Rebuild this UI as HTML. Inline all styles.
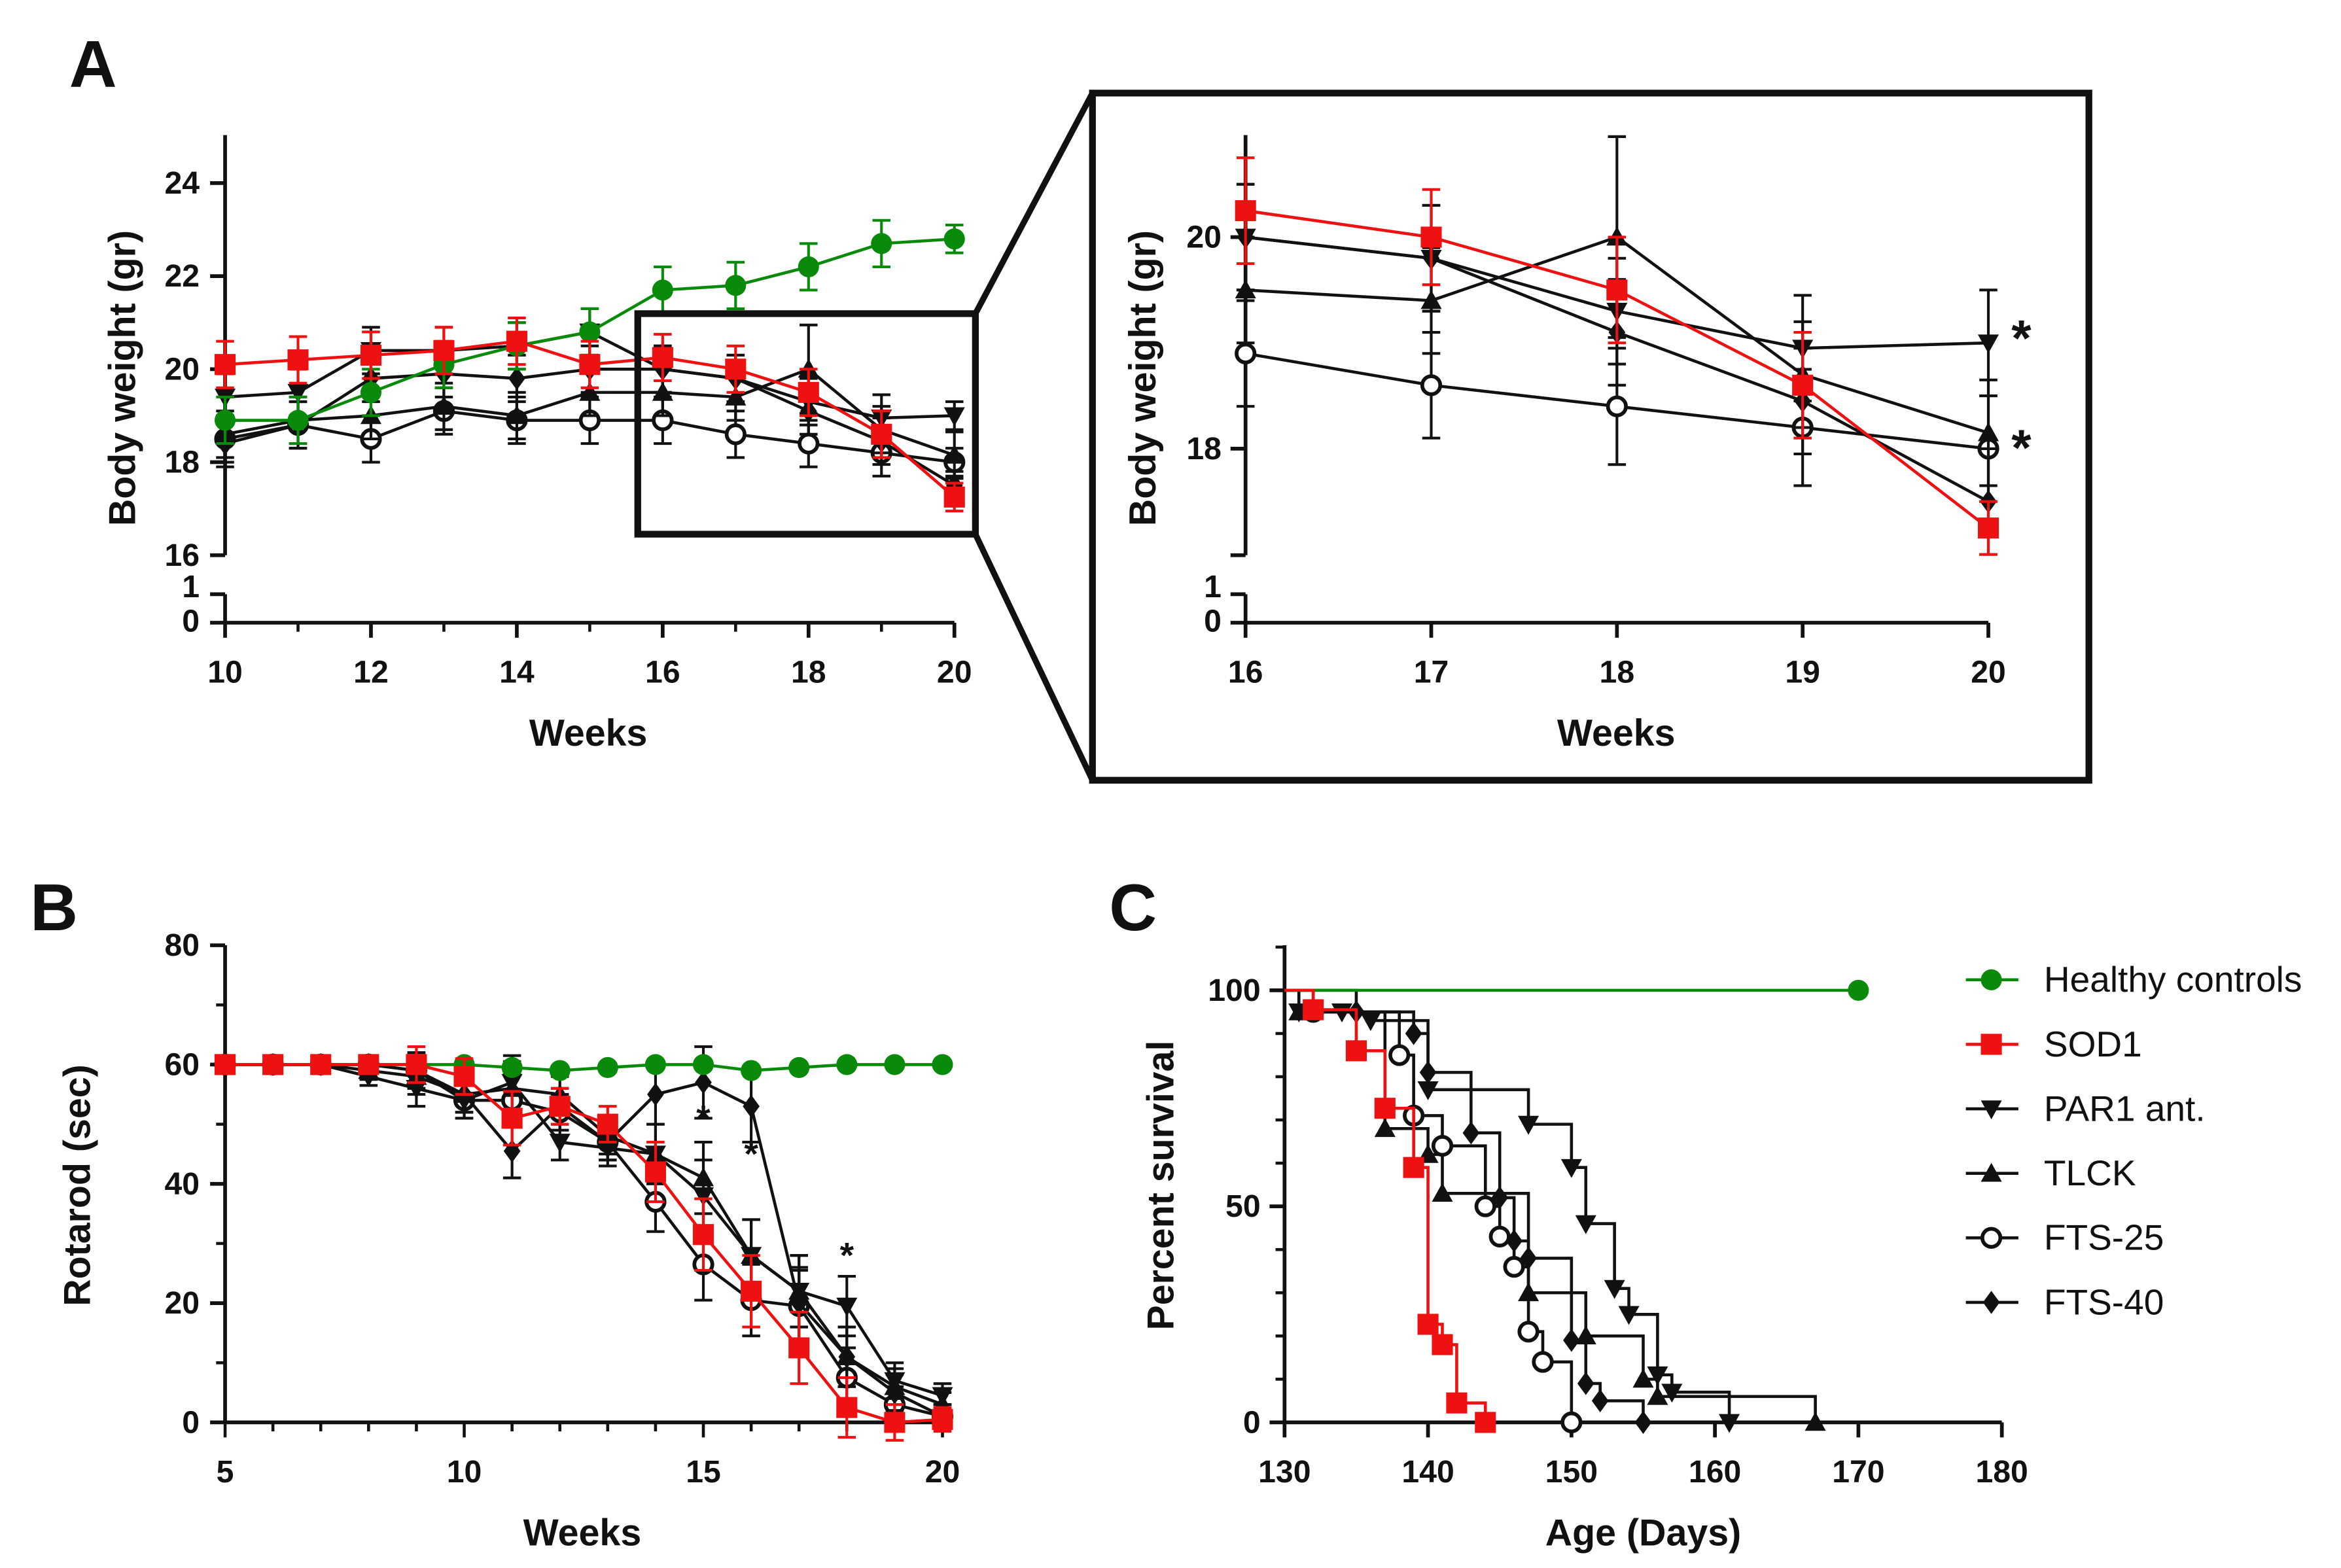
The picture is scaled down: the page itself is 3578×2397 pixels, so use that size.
<!DOCTYPE html>
<html><head><meta charset="utf-8">
<style>
html,body{margin:0;padding:0;background:#fff;}
svg{display:block;font-family:"Liberation Sans",Arial,sans-serif;}
</style></head>
<body>
<svg id="fig" width="3578" height="2397" viewBox="0 0 1560 1045" xmlns="http://www.w3.org/2000/svg">
<rect width="1560" height="1045" fill="#fff"/>
<g id="root"></g>
</svg>
<script>
// ---- Panel A data (weeks 10..20) ----
const weeksA = [10,11,12,13,14,15,16,17,18,19,20];
const aHealthy = [18.9,18.9,19.5,20.1,20.5,20.8,21.7,21.8,22.2,22.7,22.8];
const aSOD1 = [20.1,20.2,20.3,20.4,20.6,20.1,20.25,20.0,19.5,18.6,17.25];
const aPAR1 = [19.4,19.5,20.4,20.4,20.5,20.8,20.0,19.8,19.3,18.95,19.0];
const aTLCK = [18.6,18.9,19.0,19.2,19.0,19.5,19.5,19.4,20.0,18.7,18.15];
const aFTS25 = [18.5,18.8,18.5,19.1,18.9,18.9,18.9,18.6,18.4,18.2,18.0];
const aFTS40 = [18.4,18.8,19.8,19.9,19.8,20.0,20.0,19.8,19.1,18.45,17.5];
const aErr = [0.5,0.5,0.5,0.5,0.5,0.5,0.5,0.5,0.5,0.5,0.3];
const aTLCKErr = [0.5,0.5,0.5,0.5,0.5,0.5,0.5,0.5,0.95,0.5,0.5];
const ticksAy = [16,18,20,22,24];
const ticksAx = [10,12,14,16,18,20];
const ticksInsetX = [16,17,18,19,20];
const ticksInsetY = [18,20];
// ---- Panel B data (weeks 5..20) ----
const weeksB = [5,6,7,8,9,10,11,12,13,14,15,16,17,18,19,20];
const bHealthy = [60,60,60,60,60,60,59.5,59,59.5,60,60,59,59.5,60,60,60];
const bSOD1 = [60,60,60,60,60,58,51,53,50,42,31.5,22,12.5,2.5,0,0.5];
const bPAR1 = [60,60,60,58,56,54,57,47,46,45,38,28,22,19.5,7,4.5];
const bTLCK = [60,60,60,59,58,55,56,55,48,45,41,28,22,11,6,3];
const bFTS25 = [60,60,60,60,59,54,54,52,47,37,26.5,20.5,19.5,7.5,3,1];
const bFTS40 = [60,60,60,60,59,55,45.5,53,47,55,57,53,20,11,5,1];
const bErr = [0,0,0,1.5,3,3,4.5,3,3,5,6,6,6,5,3,2];
const ticksBx = [5,10,15,20];
const ticksBy = [0,20,40,60,80];
const starsBx = [15,16,18];
const starsBy = [52,46,29];
// ---- Panel C data (survival) ----
const cHealthyT = [130,170], cHealthyP = [100,100];
const cSOD1T = [132,135,137,139,140,141,142,144];
const cSOD1P = [95.5,86,72.7,59,22.7,18,4.5,0];
const cPAR1T = [131,134,136,140,147,150,151,153,154,156,157,161];
const cPAR1P = [95,95,93,77,69,59,46,31,25,11,7,0];
const cTLCKT = [131,137,140,141,147,151,155,156,167];
const cTLCKP = [95,68,62,53,30,20,10,6,0];
const cFTS25T = [132,138,139,141,144,145,146,147,148,150];
const cFTS25P = [95,85,71,64,50,43,36,21,14,0];
const cFTS40T = [135,139,140,143,145,146,147,150,151,152,155];
const cFTS40P = [95,90,81,67,52,42,38,19,9,5,0];
const ticksCx = [130,140,150,160,170,180];
const ticksCy = [0,50,100];
const legendLabels = ["Healthy controls","SOD1","PAR1 ant.","TLCK","FTS-25","FTS-40"];

const NS="http://www.w3.org/2000/svg";
const root=document.getElementById('root');
const TK=21, TT=25;
function el(tag,attrs,parent,name){const e=document.createElementNS(NS,tag);for(const k in attrs)e.setAttribute(k,attrs[k]);


(parent||root).appendChild(e);return e;}
function txt(x,y,s,size,name,anchor,rot,parent){const t=el('text',{x:x,y:y,'font-size':size,'font-weight':'bold','text-anchor':anchor||'middle',fill:'#111'},parent,name);
if(rot)t.setAttribute('transform',`rotate(${rot} ${x} ${y})`);t.textContent=s;return t;}
function line(x1,y1,x2,y2,c,w,name,p){return el('line',{x1:x1,y1:y1,x2:x2,y2:y2,stroke:c||'#111','stroke-width':w||2},p,name);}
function marker(type,x,y,c,s,name,p){s=s||7;
 if(type==='circle')return el('circle',{cx:x,cy:y,r:s,fill:c},p,name);
 if(type==='ocircle')return el('circle',{cx:x,cy:y,r:s-1,fill:'#fff',stroke:c,'stroke-width':2.5},p,name);
 if(type==='square')return el('rect',{x:x-s,y:y-s,width:2*s,height:2*s,fill:c},p,name);
 if(type==='down')return el('polygon',{points:`${x-s},${y-s*0.8} ${x+s},${y-s*0.8} ${x},${y+s}`,fill:c},p,name);
 if(type==='up')return el('polygon',{points:`${x-s},${y+s*0.8} ${x+s},${y+s*0.8} ${x},${y-s}`,fill:c},p,name);
 if(type==='diamond')return el('polygon',{points:`${x},${y-s*1.1} ${x+s*0.8},${y} ${x},${y+s*1.1} ${x-s*0.8},${y}`,fill:c},p,name);}
const SER=[['healthy','circle','#0a8a0a'],['sod1','square','#ee1111'],['par1','down','#111'],['tlck','up','#111'],['fts25','ocircle','#111'],['fts40','diamond','#111']];

function series(g,xs,ys,errs,xf,yf,st,idx){
 const pts=xs.map((x,i)=>[xf(x),yf(ys[i])]);
 el('polyline',{points:pts.map(p=>p.join(',')).join(' '),fill:'none',stroke:st[2],'stroke-width':2},g,st[0]+'-line');
 pts.forEach((p,i)=>{ if(errs){const e=errs[i];const y1=yf(ys[i]+e),y2=yf(ys[i]-e);
   if(Math.abs(y2-y1)>2){line(p[0],y1,p[0],y2,st[2],1.8,st[0]+'-errbar',g);line(p[0]-6,y1,p[0]+6,y1,st[2],1.8,st[0]+'-errcap',g);line(p[0]-6,y2,p[0]+6,y2,st[2],1.8,st[0]+'-errcap',g);}}
  marker(st[1],p[0],p[1],st[2],7,st[0]+'-point',g);});
}

// ===== Panel A main =====
(function(){
 const g=el('g',{},root,'panel-a-main');
 const xf=w=>150+(w-10)*48.6, yf=v=>246-(v-20)*31;
 txt(62,58,'A',44,'panel-a-label');
 line(150,90,150,370,'#111',2.5,'y-axis',g);line(150,396,150,415,'#111',2.5,'y-axis-break',g);
 line(150,415,636,415,'#111',2.5,'x-axis',g);
 ticksAy.forEach(v=>{line(140,yf(v),150,yf(v),'#111',2.5,'y-tick',g);txt(133,yf(v)+7,v,TK,'y-tick-label','end',0,g);});
 [[1,396],[0,415]].forEach(a=>{line(140,a[1],150,a[1],'#111',2.5,'y-tick',g);txt(133,a[1]+(a[0]?2:6),a[0],TK,'y-tick-label','end',0,g);});
 ticksAx.forEach(v=>{line(xf(v),415,xf(v),425,'#111',2.5,'x-tick',g);txt(xf(v),455,v,TK,'x-tick-label','middle',0,g);});
 for(let w=11;w<20;w+=2)line(xf(w),415,xf(w),421,'#111',2,'x-minor-tick',g);
 txt(392,497,'Weeks',TT,'x-axis-title','middle',0,g);
 txt(90,252,'Body weight (gr)',TT,'y-axis-title','middle',-90,g);
 const data=[aHealthy,aSOD1,aPAR1,aTLCK,aFTS25,aFTS40];
 [4,3,5,2,0,1].forEach(i=>series(g,weeksA,data[i],i===3?aTLCKErr:aErr,xf,yf,SER[i],i));
 el('rect',{x:425,y:209,width:225,height:147,fill:'none',stroke:'#111','stroke-width':4.5},g,'zoom-box');
 line(650,209,728,62,'#111',4,'zoom-connector-top',g);line(650,356,728,520,'#111',4,'zoom-connector-bottom',g);
})();
// ===== Panel A inset =====
(function(){
 const g=el('g',{},root,'panel-a-inset');
 el('rect',{x:728,y:62,width:664,height:458,fill:'#fff',stroke:'#111','stroke-width':4.5},g,'inset-frame');
 const xf=w=>830+(w-16)*123.75, yf=v=>158-(v-20)*70.5;
 line(830,90,830,370,'#111',2.5,'inset-y-axis',g);line(830,396,830,415,'#111',2.5,'inset-y-axis-break',g);
 line(830,415,1325,415,'#111',2.5,'inset-x-axis',g);
 ticksInsetY.forEach(v=>{line(820,yf(v),830,yf(v),'#111',2.5,'y-tick',g);txt(814,yf(v)+7,v,TK,'y-tick-label','end',0,g);});
 line(820,370,830,370,'#111',2.5,'y-tick',g);
 [[1,396],[0,415]].forEach(a=>{line(820,a[1],830,a[1],'#111',2.5,'y-tick',g);txt(814,a[1]+(a[0]?2:6),a[0],TK,'y-tick-label','end',0,g);});
 ticksInsetX.forEach(v=>{line(xf(v),415,xf(v),425,'#111',2.5,'x-tick',g);txt(xf(v),455,v,TK,'x-tick-label','middle',0,g);});
 txt(1077,497,'Weeks',TT,'x-axis-title','middle',0,g);
 txt(770,252,'Body weight (gr)',TT,'y-axis-title','middle',-90,g);
 const data=[aSOD1,aPAR1,aTLCK,aFTS25,aFTS40];
 const errs=[[0.5,0.45,0.5,0.5,0.25],[0.5,0.5,0.5,0.5,0.5],[0.5,0.5,0.95,0.5,0.5],[0.5,0.5,0.55,0.55,0.5],[0.5,0.5,0.5,0.5,0.5]];
 [3,2,4,1,0].forEach(k=>{const full=data[k];series(g,weeksA.slice(6),full.slice(6),errs[k],xf,yf,SER[k+1],k+1);});
 txt(1347,237,'*',34,'significance-star','middle',0,g);txt(1347,310,'*',34,'significance-star','middle',0,g);
})();
// ===== Panel B =====
(function(){
 const g=el('g',{},root,'panel-b');
 const xf=w=>150+(w-5)*31.87, yf=v=>948-v*3.975;
 txt(36,620,'B',44,'panel-b-label');
 line(150,630,150,948,'#111',2.5,'y-axis',g);line(150,948,628,948,'#111',2.5,'x-axis',g);
 ticksBy.forEach(v=>{line(140,yf(v),150,yf(v),'#111',2.5,'y-tick',g);txt(133,yf(v)+7,v,TK,'y-tick-label','end',0,g);});
 for(let v=10;v<80;v+=20)line(144,yf(v),150,yf(v),'#111',2,'y-minor-tick',g);
 weeksB.forEach(v=>{const big=v%5===0;line(xf(v),948,xf(v),big?958:954,'#111',2,'x-tick',g);});
 ticksBx.forEach(v=>txt(xf(v),988,v,TK,'x-tick-label','middle',0,g));
 txt(388,1030,'Weeks',TT,'x-axis-title','middle',0,g);
 txt(60,790,'Rotarod (sec)',TT,'y-axis-title','middle',-90,g);
 const data=[bHealthy,bSOD1,bPAR1,bTLCK,bFTS25,bFTS40];
 [4,3,5,2,0,1].forEach(i=>series(g,weeksB,data[i],i===0?null:bErr,xf,yf,SER[i],i));
 starsBx.forEach((w,i)=>txt(xf(w),yf(starsBy[i])+12,'*',24,'significance-star','middle',0,g));
})();
// ===== Panel C =====
(function(){
 const g=el('g',{},root,'panel-c');
 const xf=d=>856+(d-130)*9.56, yf=v=>948-v*2.88;
 txt(755,620,'C',44,'panel-c-label');
 line(856,630,856,948,'#111',2.5,'y-axis',g);line(856,948,1334,948,'#111',2.5,'x-axis',g);
 ticksCy.forEach(v=>{line(846,yf(v),856,yf(v),'#111',2.5,'y-tick',g);txt(840,yf(v)+7,v,TK,'y-tick-label','end',0,g);});
 for(let v=10;v<=110;v+=10)if(v%50)line(850,yf(v),856,yf(v),'#111',2,'y-minor-tick',g);
 ticksCx.forEach(v=>{line(xf(v),948,xf(v),958,'#111',2.5,'x-tick',g);txt(xf(v),988,v,TK,'x-tick-label','middle',0,g);});
 txt(1095,1030,'Age (Days)',TT,'x-axis-title','middle',0,g);
 txt(782,790,'Percent survival',TT,'y-axis-title','middle',-90,g);
 function km(T,P,st){let pts=[[xf(130),yf(100)]];let prev=100;
  T.forEach((t,i)=>{pts.push([xf(t),yf(prev)]);pts.push([xf(t),yf(P[i])]);prev=P[i];});
  el('polyline',{points:pts.map(p=>p.join(',')).join(' '),fill:'none',stroke:st[2],'stroke-width':2},g,st[0]+'-survival-curve');
  T.forEach((t,i)=>marker(st[1],xf(t),yf(P[i]),st[2],7,st[0]+'-survival-point',g));}
 km(cFTS25T,cFTS25P,SER[4]);km(cTLCKT,cTLCKP,SER[3]);km(cFTS40T,cFTS40P,SER[5]);km(cPAR1T,cPAR1P,SER[2]);
 el('polyline',{points:cHealthyT.map((t,i)=>xf(t)+','+yf(cHealthyP[i])).join(' '),fill:'none',stroke:SER[0][2],'stroke-width':2},g,'healthy-survival-curve');
 marker('circle',xf(170),yf(100),SER[0][2],7,'healthy-survival-point',g);
 km(cSOD1T,cSOD1P,SER[1]);
 legendLabels.forEach((s,i)=>{const y=653+i*43;const lg=el('g',{},g,'legend-entry');
  line(1310,y,1345,y,SER[i][2],2,'legend-line',lg);marker(SER[i][1],1327,y,SER[i][2],7,'legend-marker',lg);
  const t=el('text',{x:1362,y:y+8,'font-size':24,fill:'#111'},lg,'legend-label');t.textContent=s;});
})();
</script>
</body></html>
